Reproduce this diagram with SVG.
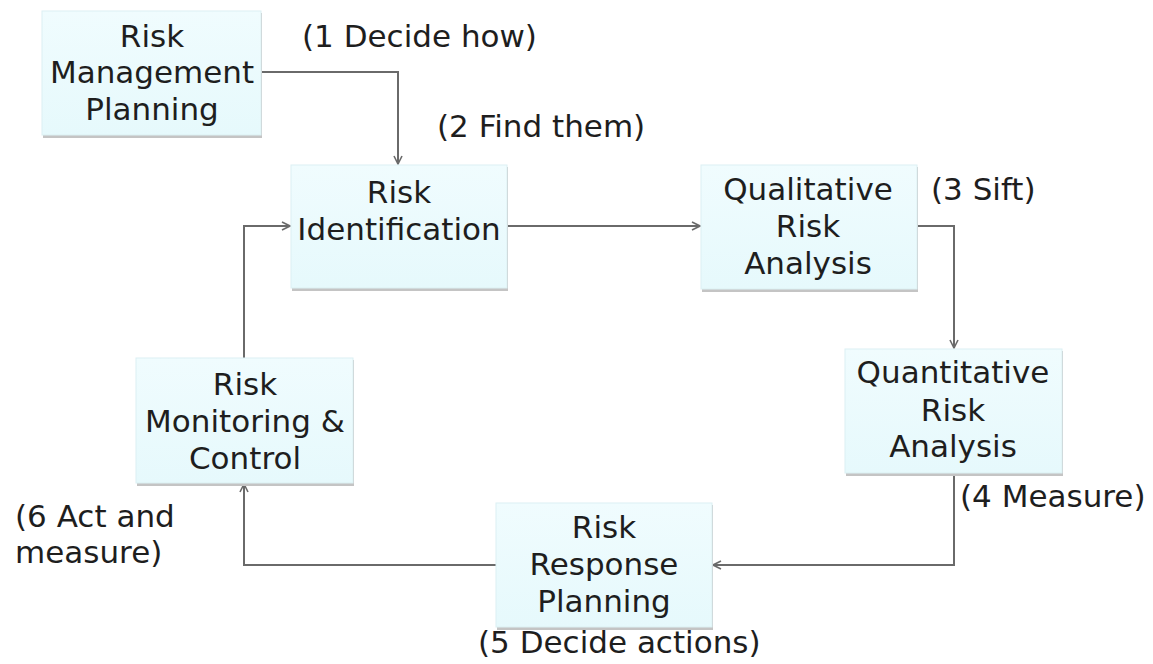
<svg xmlns="http://www.w3.org/2000/svg" width="1153" height="664" viewBox="0 0 1153 664">
<style>
.box{fill:url(#g);stroke:#dcf0f3;stroke-width:1}
.sh{fill:#c4c4c4}
.t{font-family:"DejaVu Sans",Verdana,sans-serif;font-size:31px;fill:#1e1e1e}
.c{text-anchor:middle}
.ln{fill:none;stroke:#6a6a6a;stroke-width:2}
</style>
<defs>
<linearGradient id="g" x1="0" y1="0" x2="0" y2="1">
<stop offset="0" stop-color="#f0fcfe"/>
<stop offset="1" stop-color="#e6f9fc"/>
</linearGradient>
<marker id="a" viewBox="0 0 10 10" refX="9" refY="5" markerWidth="10" markerHeight="10" markerUnits="userSpaceOnUse" orient="auto">
<path d="M1,1 L9,5 L1,9" fill="none" stroke="#6a6a6a" stroke-width="1.6"/>
</marker>
</defs>
<rect width="1153" height="664" fill="#ffffff"/>
<g id="connectors">
<path class="ln" d="M261,72 H398 V164" marker-end="url(#a)"/>
<path class="ln" d="M507,226 H700" marker-end="url(#a)"/>
<path class="ln" d="M917,226 H954 V348" marker-end="url(#a)"/>
<path class="ln" d="M954,473 V565 H713" marker-end="url(#a)"/>
<path class="ln" d="M496,565 H244 V484" marker-end="url(#a)"/>
<path class="ln" d="M244,358 V226 H290" marker-end="url(#a)"/>
</g>
<g id="n1">
<rect class="sh" x="43" y="13" width="219" height="125"/>
<rect class="box" x="42" y="11" width="219" height="124"/>
<text class="t c" x="152" y="47">Risk</text>
<text class="t c" x="152" y="83">Management</text>
<text class="t c" x="152" y="120">Planning</text>
</g>
<g id="n2">
<rect class="sh" x="292" y="167" width="216" height="124"/>
<rect class="box" x="291" y="165" width="216" height="123"/>
<text class="t c" x="399" y="203">Risk</text>
<text class="t c" x="399" y="240">Identification</text>
</g>
<g id="n3">
<rect class="sh" x="702" y="167" width="216" height="125"/>
<rect class="box" x="701" y="165" width="216" height="124"/>
<text class="t c" x="808" y="200">Qualitative</text>
<text class="t c" x="808" y="237">Risk</text>
<text class="t c" x="808" y="274">Analysis</text>
</g>
<g id="n4">
<rect class="sh" x="846" y="351" width="217" height="125"/>
<rect class="box" x="845" y="349" width="217" height="124"/>
<text class="t c" x="953" y="383">Quantitative</text>
<text class="t c" x="953" y="421">Risk</text>
<text class="t c" x="953" y="457">Analysis</text>
</g>
<g id="n5">
<rect class="sh" x="497" y="505" width="216" height="125"/>
<rect class="box" x="496" y="503" width="216" height="124"/>
<text class="t c" x="604" y="538">Risk</text>
<text class="t c" x="604" y="575">Response</text>
<text class="t c" x="604" y="612">Planning</text>
</g>
<g id="n6">
<rect class="sh" x="137" y="360" width="217" height="126"/>
<rect class="box" x="136" y="358" width="217" height="125"/>
<text class="t c" x="245" y="395">Risk</text>
<text class="t c" x="245" y="432">Monitoring &amp;</text>
<text class="t c" x="245" y="469">Control</text>
</g>
<g id="labels">
<text class="t" x="302" y="47">(1 Decide how)</text>
<text class="t" x="437" y="137">(2 Find them)</text>
<text class="t" x="931" y="200">(3 Sift)</text>
<text class="t" x="960" y="507">(4 Measure)</text>
<text class="t" x="478" y="653">(5 Decide actions)</text>
<text class="t" x="15" y="527">(6 Act and</text>
<text class="t" x="15" y="563">measure)</text>
</g>
</svg>
